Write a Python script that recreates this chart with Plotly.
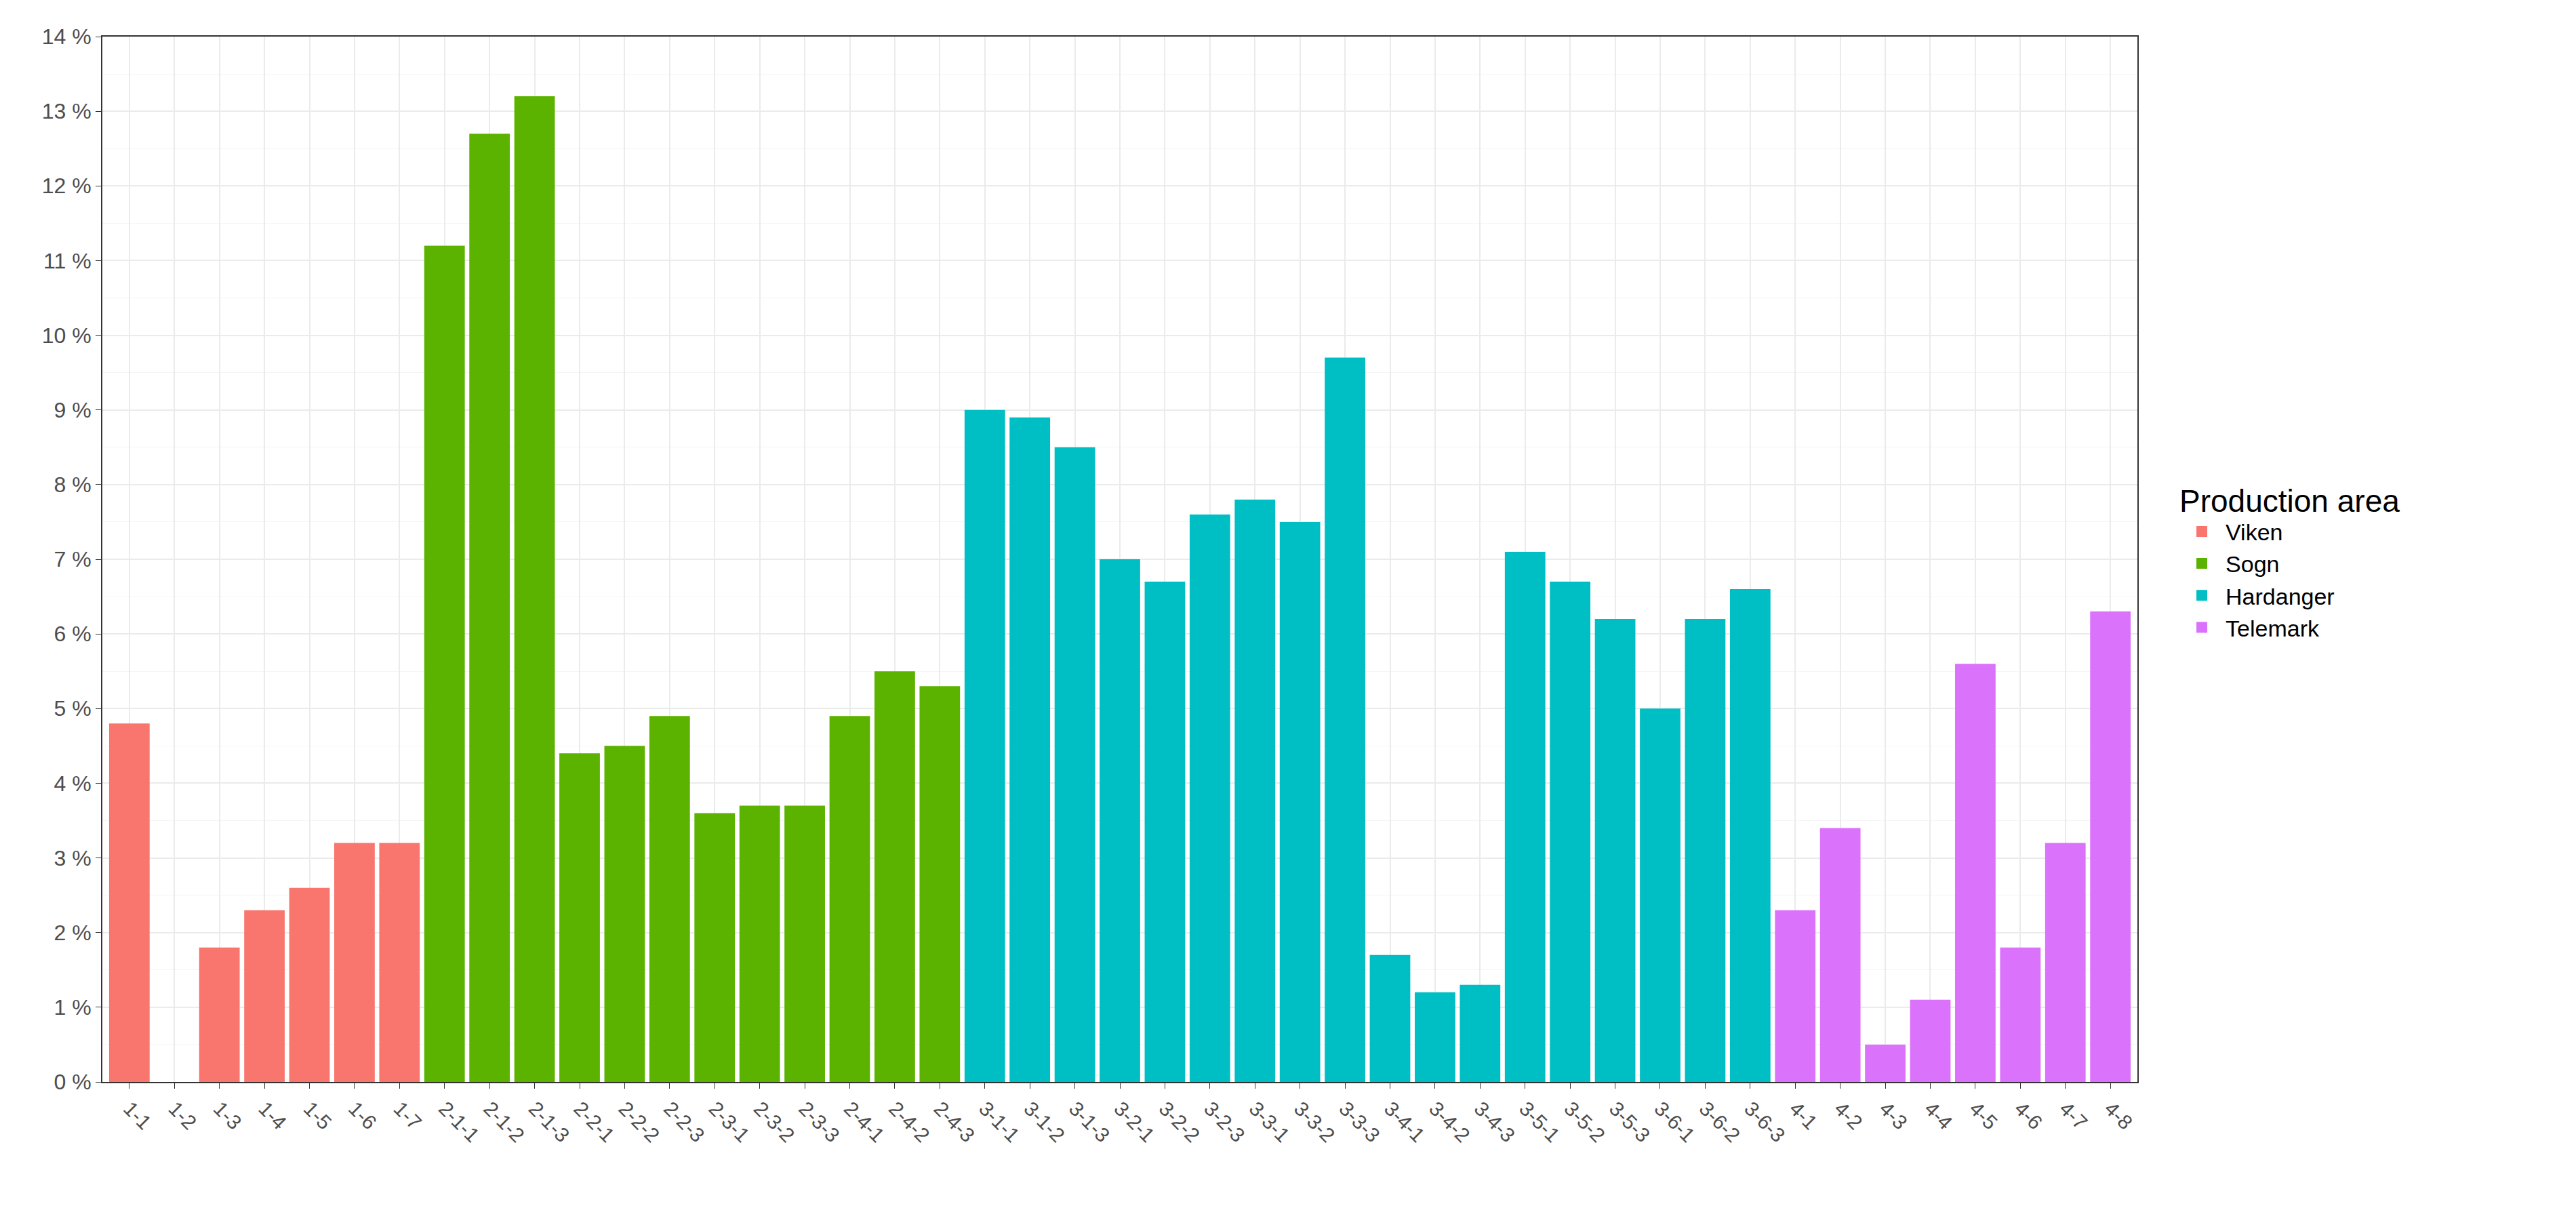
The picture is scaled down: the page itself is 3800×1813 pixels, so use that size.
import plotly.graph_objects as go

viken_cats = ["1-1","1-2","1-3","1-4","1-5","1-6","1-7"]
viken_vals = [4.8, 0, 1.8, 2.3, 2.6, 3.2, 3.2]
sogn_cats = ["2-1-1","2-1-2","2-1-3","2-2-1","2-2-2","2-2-3","2-3-1","2-3-2","2-3-3","2-4-1","2-4-2","2-4-3"]
sogn_vals = [11.2, 12.7, 13.2, 4.4, 4.5, 4.9, 3.6, 3.7, 3.7, 4.9, 5.5, 5.3]
hard_cats = ["3-1-1","3-1-2","3-1-3","3-2-1","3-2-2","3-2-3","3-3-1","3-3-2","3-3-3","3-4-1","3-4-2","3-4-3","3-5-1","3-5-2","3-5-3","3-6-1","3-6-2","3-6-3"]
hard_vals = [9.0, 8.9, 8.5, 7.0, 6.7, 7.6, 7.8, 7.5, 9.7, 1.7, 1.2, 1.3, 7.1, 6.7, 6.2, 5.0, 6.2, 6.6]
tele_cats = ["4-1","4-2","4-3","4-4","4-5","4-6","4-7","4-8"]
tele_vals = [2.3, 3.4, 0.5, 1.1, 5.6, 1.8, 3.2, 6.3]

series = [("Viken", viken_cats, viken_vals, "#F8766D"),
          ("Sogn", sogn_cats, sogn_vals, "#5BB300"),
          ("Hardanger", hard_cats, hard_vals, "#00BFC4"),
          ("Telemark", tele_cats, tele_vals, "#DB72FB")]
all_cats = viken_cats + sogn_cats + hard_cats + tele_cats

fig = go.Figure()
for name, c, v, col in series:
    fig.add_trace(go.Bar(x=c, y=v, name=name, showlegend=False,
                         marker=dict(color=col, line=dict(width=0))))
for name, c, v, col in series:
    fig.add_trace(go.Scatter(x=[None], y=[None], mode="markers", name=name,
                             marker=dict(symbol="square", size=72, color=col)))

fig.update_layout(
    width=3800, height=1813, plot_bgcolor="white", paper_bgcolor="white",
    bargap=0.1, barmode="overlay",
    margin=dict(l=143, r=655, t=46, b=225),
    font=dict(family="Liberation Sans, Arial", size=32, color="#4D4D4D"),
    legend=dict(title=dict(text="Production area", font=dict(size=46, color="black")),
                x=1.02, y=0.5, yanchor="middle", font=dict(size=34, color="black"),
                itemsizing="trace", tracegroupgap=0, itemwidth=60),
)
fig.update_xaxes(categoryorder="array", categoryarray=all_cats, range=[-0.6, len(all_cats)-0.4],
                 tickangle=45, showgrid=True, gridcolor="#EBEBEB", gridwidth=2,
                 ticks="outside", ticklen=8, tickcolor="#333333",
                 showline=True, linecolor="#333333", linewidth=2, mirror=True,
                 tickfont=dict(size=30, color="#4D4D4D"))
fig.update_yaxes(range=[0, 14], tickvals=list(range(15)),
                 ticktext=[f"{i} %" for i in range(15)],
                 showgrid=True, gridcolor="#EBEBEB", gridwidth=2,
                 minor=dict(dtick=0.5, showgrid=True, gridcolor="#F5F5F5", gridwidth=1),
                 ticks="outside", ticklen=8, tickcolor="#333333",
                 showline=True, linecolor="#333333", linewidth=2, mirror=True,
                 zeroline=False, tickfont=dict(size=32, color="#4D4D4D"))
fig.write_html("out.html")
